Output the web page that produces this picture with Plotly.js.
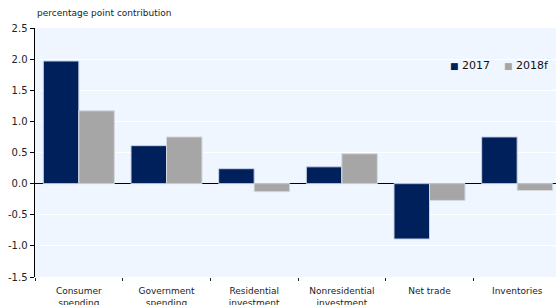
<!DOCTYPE html>
<html>
<head>
<meta charset="utf-8">
<script src="https://cdn.plot.ly/plotly-3.0.1.min.js"></script>
<style>
html,body{margin:0;padding:0;overflow:hidden;background:#fff;}
#chart{width:561px;height:305px;}
</style>
</head>
<body>
<div id="chart"></div>
<script>
const categories = ["Consumer<br>spending","Government<br>spending","Residential<br>investment","Nonresidential<br>investment","Net trade","Inventories"];
const values2017 = [1.97, 0.61, 0.24, 0.27, -0.89, 0.75];
const values2018f = [1.17, 0.75, -0.13, 0.48, -0.27, -0.11];
const seriesNames = ["2017", "2018f"];
const seriesColors = ["#00205B", "#A6A6A6"];
const yTicks = [-1.5, -1.0, -0.5, 0.0, 0.5, 1.0, 1.5, 2.0, 2.5];
const yTickLabels = ["-1.5","-1.0","-0.5","0.0","0.5","1.0","1.5","2.0","2.5"];
const subtitle = "percentage point contribution";

const font = "DejaVu Sans, Verdana, sans-serif";
const traces = [
  {type:"bar", name:seriesNames[0], x:categories, y:values2017,
   marker:{color:seriesColors[0], line:{color:"#C9D3E6", width:1}}},
  {type:"bar", name:seriesNames[1], x:categories, y:values2018f,
   marker:{color:seriesColors[1], line:{color:"#D6D9DE", width:1}}}
];
const legendText = seriesNames.map((n,i) =>
  '<span style="color:' + seriesColors[i] + ';font-size:9px">■</span> ' + n).join('    ');
const layout = {
  width:561, height:305,
  margin:{l:35, r:0, t:28, b:28},
  paper_bgcolor:"#FFFFFF",
  plot_bgcolor:"#F0F6FF",
  barmode:"group",
  bargap:0.19,
  bargroupgap:0,
  font:{family:font, size:9, color:"#222"},
  showlegend:false,
  xaxis:{type:"category", showgrid:false, zeroline:false, showline:false,
         ticks:"outside", tickson:"boundaries", ticklen:3, tickcolor:"#222",
         ticklabelstandoff:7,
         tickfont:{family:font, size:9, color:"#222"}, fixedrange:true},
  yaxis:{range:[-1.5,2.5], tickvals:yTicks, ticktext:yTickLabels,
         showgrid:true, gridcolor:"#FFFFFF", gridwidth:1,
         zeroline:true, zerolinecolor:"#000", zerolinewidth:1.5,
         showline:true, linecolor:"#000", linewidth:1.5,
         ticks:"outside", ticklen:4, tickcolor:"#000",
         tickfont:{family:font, size:10, color:"#222"}, fixedrange:true},
  annotations:[
    {text:subtitle, xref:"paper", yref:"paper", x:0, y:1,
     xanchor:"left", yanchor:"bottom", yshift:8, showarrow:false,
     font:{family:font, size:9, color:"#222"}},
    {text:legendText, xref:"paper", yref:"paper", x:0.785, y:0.848,
     xanchor:"left", yanchor:"middle", showarrow:false,
     font:{family:font, size:11, color:"#111"}}
  ]
};
Plotly.newPlot("chart", traces, layout, {staticPlot:true, displayModeBar:false});
</script>
</body>
</html>
